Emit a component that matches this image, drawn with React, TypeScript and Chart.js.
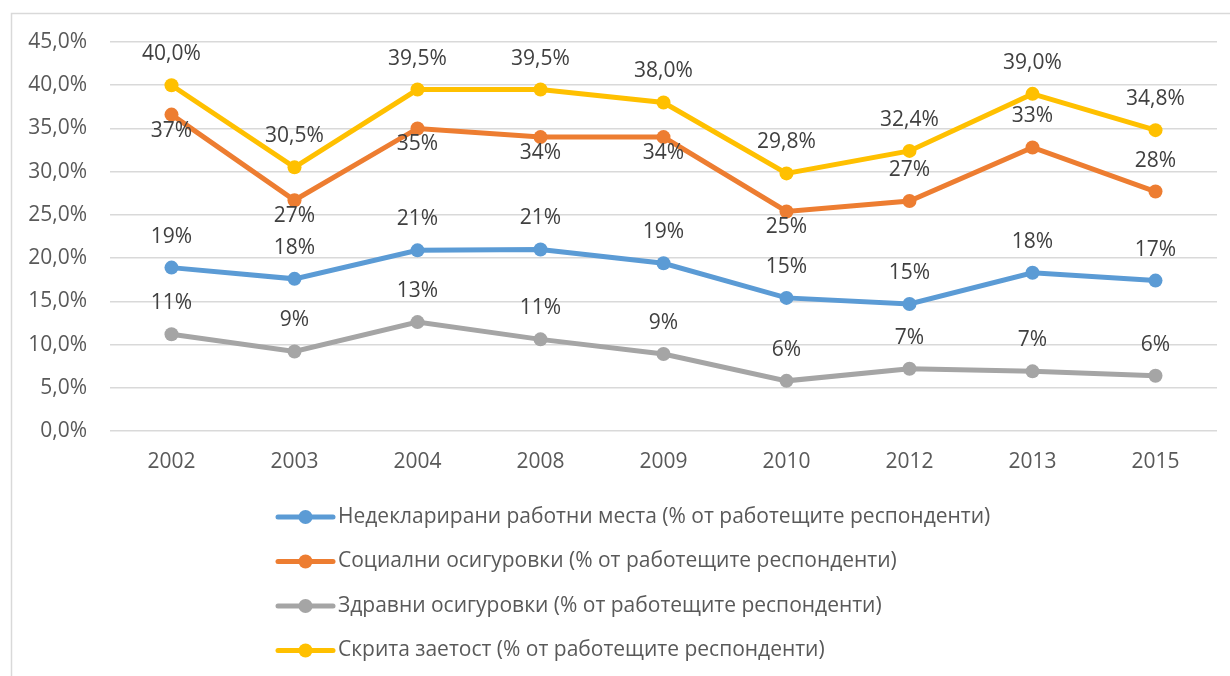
import React, { useEffect, useRef } from "react";
import { Chart, registerables } from "chart.js";

Chart.register(...registerables);

const years = ["2002", "2003", "2004", "2008", "2009", "2010", "2012", "2013", "2015"];
const undeclaredJobs = [18.9, 17.6, 20.9, 21.0, 19.4, 15.4, 14.7, 18.3, 17.4];
const socialInsurance = [36.6, 26.7, 35.0, 34.0, 34.0, 25.4, 26.6, 32.8, 27.7];
const healthInsurance = [11.2, 9.2, 12.6, 10.6, 8.9, 5.8, 7.2, 6.9, 6.4];
const hiddenEmployment = [40.0, 30.5, 39.5, 39.5, 38.0, 29.8, 32.4, 39.0, 34.8];
const seriesNames = [
  "Недекларирани работни места (% от работещите респонденти)",
  "Социални осигуровки (% от работещите респонденти)",
  "Здравни осигуровки (% от работещите респонденти)",
  "Скрита заетост (% от работещите респонденти)",
];
const yMin = 0;
const yMax = 45;
const yStep = 5;

const FONT = "'Open Sans', sans-serif";
const FONT_SIZE = 21;
const colors = ["#5B9BD5", "#ED7D31", "#A5A5A5", "#FFC000"];
const orangePlacement = ["below", "below", "below", "below", "below", "below", "above", "above", "above"];

const fmtPct = (v: number, dec: number) => v.toFixed(dec).replace(".", ",") + "%";

const framePlugin = {
  id: "frame",
  beforeDraw(chart: any) {
    const ctx = chart.ctx;
    ctx.save();
    ctx.fillStyle = "#ffffff";
    ctx.fillRect(0, 0, chart.width, chart.height);
    ctx.strokeStyle = "#D9D9D9";
    ctx.lineWidth = 1.5;
    ctx.beginPath();
    ctx.moveTo(11.5, chart.height + 5);
    ctx.lineTo(11.5, 13.5);
    ctx.lineTo(chart.width + 5, 13.5);
    ctx.stroke();
    ctx.restore();
  },
};

const labelPlugin = {
  id: "pointLabels",
  afterDatasetsDraw(chart: any) {
    const ctx = chart.ctx;
    ctx.save();
    ctx.font = `${FONT_SIZE}px ${FONT}`;
    ctx.fillStyle = "#404040";
    ctx.textAlign = "center";
    ctx.textBaseline = "middle";
    chart.data.datasets.forEach((ds: any, di: number) => {
      const meta = chart.getDatasetMeta(di);
      meta.data.forEach((pt: any, i: number) => {
        const v = ds.data[i];
        const place = ds.labelPlacement ? ds.labelPlacement[i] : "above";
        const y = place === "below" ? pt.y + 16 : pt.y - 31;
        ctx.fillText(fmtPct(v, ds.labelDecimals), pt.x, y);
      });
    });
    ctx.restore();
  },
};

const legendPlugin = {
  id: "customLegend",
  afterDraw(chart: any) {
    const ctx = chart.ctx;
    ctx.save();
    ctx.font = `${FONT_SIZE}px ${FONT}`;
    const startX = 278;
    const lineLen = 55;
    const rowY0 = 517;
    const rowGap = 44.5;
    chart.data.datasets.forEach((ds: any, i: number) => {
      const y = rowY0 + i * rowGap;
      ctx.strokeStyle = ds.borderColor;
      ctx.lineWidth = 5;
      ctx.lineCap = "round";
      ctx.beginPath();
      ctx.moveTo(startX, y);
      ctx.lineTo(startX + lineLen, y);
      ctx.stroke();
      ctx.fillStyle = ds.borderColor;
      ctx.beginPath();
      ctx.arc(startX + lineLen / 2, y, 7, 0, Math.PI * 2);
      ctx.fill();
      ctx.fillStyle = "#595959";
      ctx.textAlign = "left";
      ctx.textBaseline = "middle";
      ctx.fillText(ds.label, startX + lineLen + 5, y);
    });
    ctx.restore();
  },
};

export default function App() {
  const ref = useRef<HTMLCanvasElement>(null);
  useEffect(() => {
    if (!ref.current) return;
    const seriesData = [undeclaredJobs, socialInsurance, healthInsurance, hiddenEmployment];
    const chart = new Chart(ref.current, {
      type: "line",
      data: {
        labels: years,
        datasets: seriesData.map((d, i) => ({
          label: seriesNames[i],
          data: d,
          borderColor: colors[i],
          backgroundColor: colors[i],
          borderWidth: 5,
          pointRadius: 7,
          pointHoverRadius: 7,
          pointBorderWidth: 0,
          tension: 0,
          fill: false,
          labelDecimals: i === 3 ? 1 : 0,
          labelPlacement: i === 1 ? orangePlacement : undefined,
        })) as any,
      },
      options: {
        animation: false,
        responsive: false,
        maintainAspectRatio: false,
        layout: { padding: { top: 42, right: 13, left: 0, bottom: 0 } },
        plugins: {
          legend: { display: false },
          tooltip: { enabled: false },
        },
        scales: {
          x: {
            type: "category",
            offset: true,
            grid: { display: false, drawTicks: false },
            border: { display: false },
            ticks: { color: "#595959", font: { family: FONT, size: FONT_SIZE }, padding: 18 },
            afterFit: (s: any) => {
              s.height = 245;
            },
          },
          y: {
            min: yMin,
            max: yMax,
            grid: { color: "#D9D9D9", lineWidth: 1.5, drawTicks: false },
            border: { display: false },
            ticks: {
              stepSize: yStep,
              color: "#595959",
              font: { family: FONT, size: FONT_SIZE },
              padding: 23,
              callback: (v: any) => fmtPct(Number(v), 1),
            },
            afterFit: (s: any) => {
              s.width = 110;
            },
          },
        },
      },
      plugins: [framePlugin, labelPlugin, legendPlugin],
    });
    return () => chart.destroy();
  }, []);
  return (
    <div style={{ position: "fixed", left: 0, top: 0, width: 1230, height: 676, background: "#fff" }}>
      <canvas ref={ref} width={1230} height={676} style={{ display: "block" }} />
    </div>
  );
}
